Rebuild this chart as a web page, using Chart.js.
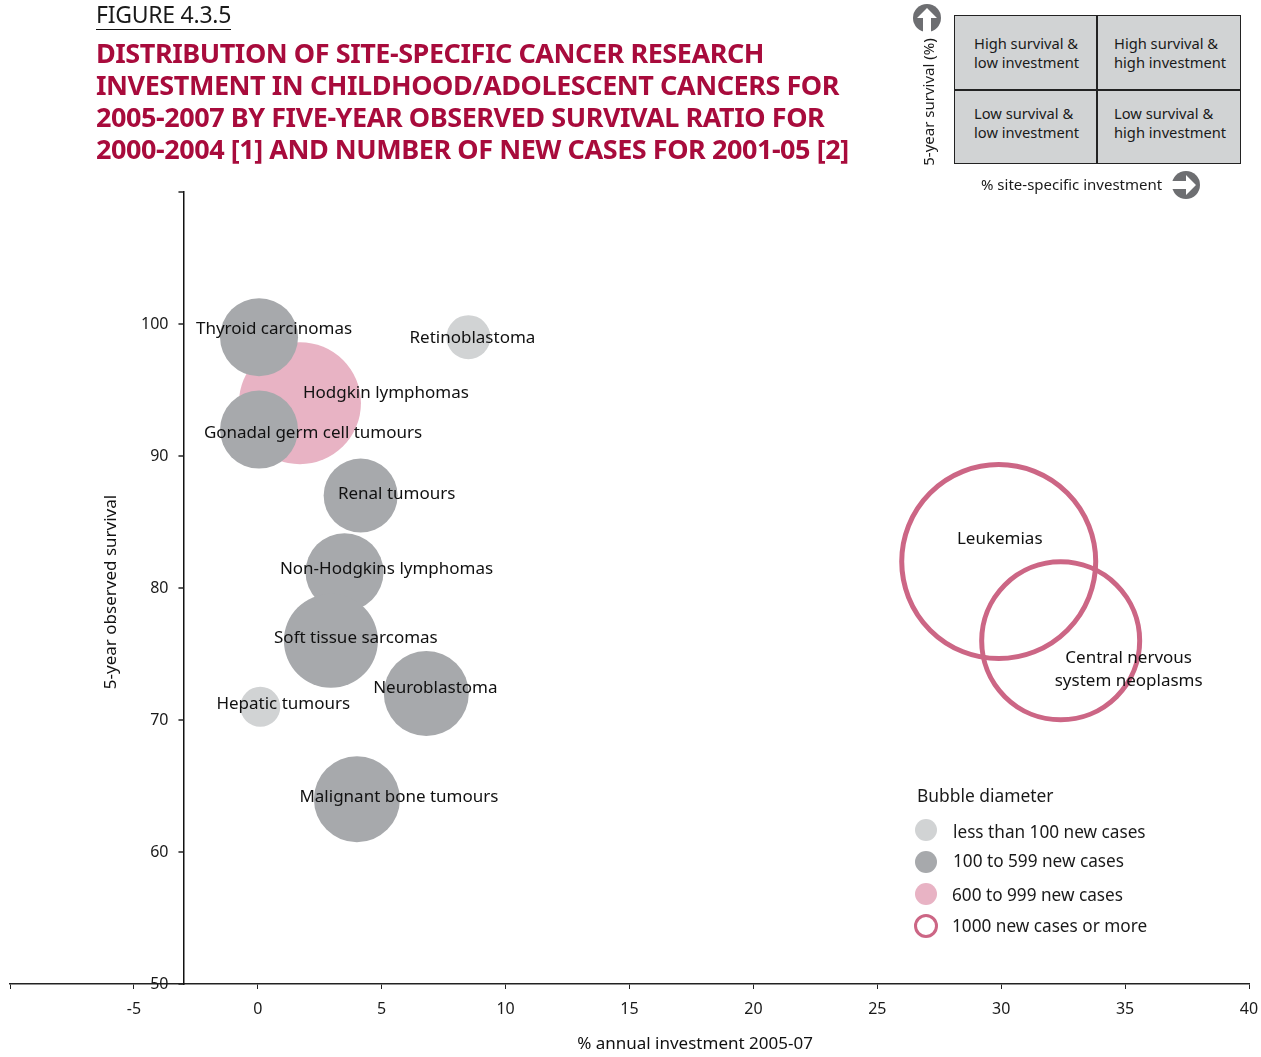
<!DOCTYPE html>
<html>
<head>
<meta charset="utf-8">
<title>Figure 4.3.5</title>
<script src="https://cdn.jsdelivr.net/npm/chart.js@4"></script>
<style>
  html, body { margin: 0; padding: 0; background: #fff; }
  body { position: relative; width: 1261px; height: 1057px; overflow: hidden; font-family: "Noto Sans", sans-serif; color: #1a1a1a; }
  #chart { position: absolute; left: 0; top: 0; }
  .abs { position: absolute; white-space: nowrap; }
  #figure { left: 96px; top: 0; font-size: 23px; line-height: 29px; border-bottom: 1.5px solid #111; letter-spacing: -0.25px; }
  #title { left: 96px; top: 37px; font-size: 27px; line-height: 32px; font-weight: 700; color: #a80b3c; letter-spacing: -0.45px; }
  #matrix { left: 954px; top: 15px; width: 287px; height: 149px; background: #d1d3d4; border: 1.5px solid #222; box-sizing: border-box; }
  #matrix .cell { position: absolute; font-size: 14.7px; line-height: 19px; }
  #matrix .v { position: absolute; left: 141px; top: 0; bottom: 0; border-left: 2px solid #222; }
  #matrix .h { position: absolute; top: 73px; left: 0; right: 0; border-top: 2px solid #222; }
  .hint { font-size: 15px; }
  #legend-title { left: 917px; top: 783px; font-size: 17.4px; }
  .key { font-size: 17.2px; line-height: 24px; }
  .swatch { position: absolute; width: 22px; height: 22px; border-radius: 50%; box-sizing: border-box; }
</style>
</head>
<body>
<canvas id="chart" width="1261" height="1057"></canvas>

<div class="abs" id="figure">FIGURE 4.3.5</div>
<div class="abs" id="title">DISTRIBUTION OF SITE-SPECIFIC CANCER RESEARCH<br>INVESTMENT IN CHILDHOOD/ADOLESCENT CANCERS FOR<br>2005-2007 BY FIVE-YEAR OBSERVED SURVIVAL RATIO FOR<br>2000-2004 [1] AND NUMBER OF NEW CASES FOR 2001-05 [2]</div>

<!-- quadrant key, top right -->
<div class="abs" id="matrix">
  <div class="v"></div><div class="h"></div>
  <div class="cell" style="left:19px;top:18px">High survival &amp;<br>low investment</div>
  <div class="cell" style="left:159px;top:18px">High survival &amp;<br>high investment</div>
  <div class="cell" style="left:19px;top:88px">Low survival &amp;<br>low investment</div>
  <div class="cell" style="left:159px;top:88px">Low survival &amp;<br>high investment</div>
</div>
<div class="abs hint" style="left:928px;top:102px;transform:translate(-50%,-50%) rotate(-90deg)">5-year survival (%)</div>
<div class="abs hint" style="left:981px;top:174px">% site-specific investment</div>
<svg class="abs" style="left:913px;top:4px" width="28" height="28" viewBox="0 0 28 28">
  <circle cx="14" cy="14" r="14" fill="#6d6e71"/>
  <path d="M14 4 L24 14 L18 14 L18 28 L10 28 L10 14 L4 14 Z" fill="#fff"/>
</svg>
<svg class="abs" style="left:1172px;top:171px" width="28" height="28" viewBox="0 0 28 28">
  <circle cx="14" cy="14" r="14" fill="#6d6e71"/>
  <path d="M24 14 L14 24 L14 18 L0 18 L0 10 L14 10 L14 4 Z" fill="#fff"/>
</svg>

<!-- bubble size legend -->
<div class="abs" id="legend-title">Bubble diameter</div>
<div class="swatch" style="left:915px;top:819px;background:#d1d3d4"></div>
<div class="abs key" style="left:953px;top:820px">less than 100 new cases</div>
<div class="swatch" style="left:915px;top:851px;background:#a7a9ac"></div>
<div class="abs key" style="left:953px;top:849px">100 to 599 new cases</div>
<div class="swatch" style="left:915px;top:883px;background:#e8b3c4"></div>
<div class="abs key" style="left:952px;top:883px">600 to 999 new cases</div>
<div class="swatch" style="left:914px;top:914px;width:24px;height:24px;border:3.5px solid #cc6685"></div>
<div class="abs key" style="left:952px;top:914px">1000 new cases or more</div>

<script>
// Values
const lessThan100 = ['Retinoblastoma', 'Hepatic tumours'];
const lessThan100Invest = [8.5, 0.1];
const lessThan100Survival = [99, 71];
const lessThan100Bubble = [22, 20];

const from100To599 = ['Thyroid carcinomas', 'Gonadal germ cell tumours', 'Renal tumours', 'Non-Hodgkins lymphomas', 'Soft tissue sarcomas', 'Neuroblastoma', 'Malignant bone tumours'];
const from100To599Invest = [0.05, 0.05, 4.15, 3.5, 2.95, 6.8, 4.0];
const from100To599Survival = [99, 92, 87, 81.2, 76, 72, 64];
const from100To599Bubble = [39, 39, 37, 39, 47, 42.5, 43];

const from600To999 = ['Hodgkin lymphomas'];
const from600To999Invest = [1.7];
const from600To999Survival = [94];
const from600To999Bubble = [61];

const over1000 = ['Leukemias', 'Central nervous\nsystem neoplasms'];
const over1000Invest = [29.9, 32.4];
const over1000Survival = [82, 76];
const over1000Bubble = [97, 79];

const xTicks = [-10, -5, 0, 5, 10, 15, 20, 25, 30, 35, 40];
const yTicks = [50, 60, 70, 80, 90, 100, 110];

function points(names, xs, ys, rs) {
  return names.map((n, i) => ({ x: xs[i], y: ys[i], r: rs[i], name: n }));
}

// where each label sits relative to its bubble centre
const labelShift = {
  'Retinoblastoma': [4, 1],
  'Hepatic tumours': [23, -3],
  'Thyroid carcinomas': [15, -8],
  'Gonadal germ cell tumours': [54, 4],
  'Renal tumours': [36, -1],
  'Non-Hodgkins lymphomas': [42, -3],
  'Soft tissue sarcomas': [25, -3],
  'Neuroblastoma': [9, -5],
  'Malignant bone tumours': [42, -2],
  'Hodgkin lymphomas': [86, -10],
  'Leukemias': [1, -22],
  'Central nervous\nsystem neoplasms': [68, 17]
};

const bubbleLabels = {
  id: 'bubbleLabels',
  afterDatasetsDraw(chart) {
    const ctx = chart.ctx;
    ctx.save();
    ctx.font = '17px "Noto Sans"';
    ctx.fillStyle = '#111';
    ctx.textAlign = 'center';
    ctx.textBaseline = 'middle';
    chart.data.datasets.forEach((ds, di) => {
      chart.getDatasetMeta(di).data.forEach((el, i) => {
        const name = ds.data[i].name;
        const shift = labelShift[name];
        name.split('\n').forEach((line, k) => {
          ctx.fillText(line, el.x + shift[0], el.y + shift[1] + k * 23);
        });
      });
    });

    // axis titles sit off centre in the original
    ctx.fillText('% annual investment 2005-07', 695, 1044);
    ctx.save();
    ctx.translate(111, 592);
    ctx.rotate(-Math.PI / 2);
    ctx.fillText('5-year observed survival', 0, 0);
    ctx.restore();

    // y ticks point left of an axis floating at x = -3, the scale won't lay that out itself
    const yScale = chart.scales.y;
    const axisX = chart.scales.x.getPixelForValue(-3);
    ctx.font = '16px "Noto Sans"';
    ctx.fillStyle = '#1a1a1a';
    ctx.textAlign = 'right';
    ctx.strokeStyle = '#222';
    ctx.lineWidth = 1.5;
    yScale.ticks.forEach(t => {
      const py = yScale.getPixelForValue(t.value);
      ctx.beginPath();
      ctx.moveTo(axisX, py);
      ctx.lineTo(axisX - 5, py);
      ctx.stroke();
      if (t.value !== 110) ctx.fillText(t.value, axisX - 15, py + 0.5);
    });
    ctx.restore();
  }
};

new Chart(document.getElementById('chart'), {
  type: 'bubble',
  data: {
    // first dataset is painted last, so pink goes at the end to stay under the grey
    datasets: [
      { label: '1000 new cases or more', data: points(over1000, over1000Invest, over1000Survival, over1000Bubble), backgroundColor: 'rgba(0,0,0,0)', borderColor: '#cc6685', borderWidth: 5 },
      { label: 'less than 100 new cases', data: points(lessThan100, lessThan100Invest, lessThan100Survival, lessThan100Bubble), backgroundColor: '#d1d3d4', borderWidth: 0 },
      { label: '100 to 599 new cases', data: points(from100To599, from100To599Invest, from100To599Survival, from100To599Bubble), backgroundColor: '#a7a9ac', borderWidth: 0 },
      { label: '600 to 999 new cases', data: points(from600To999, from600To999Invest, from600To999Survival, from600To999Bubble), backgroundColor: '#e8b3c4', borderWidth: 0 }
    ]
  },
  options: {
    responsive: false,
    animation: false,
    clip: false,
    layout: { autoPadding: false, padding: { left: 10, right: 12, top: 192, bottom: 0 } },
    plugins: { legend: { display: false }, tooltip: { enabled: false } },
    scales: {
      x: {
        type: 'linear',
        min: -10,
        max: 40,
        afterFit(scale) {
          scale.height = 73;
          // drop the room kept for the end labels so the axis runs out to the padding
          scale.paddingLeft = 0;
          scale.paddingRight = 0;
        },
        afterBuildTicks(scale) { scale.ticks = xTicks.map(v => ({ value: v })); },
        grid: { drawOnChartArea: false, tickLength: 5, tickColor: '#222' },
        border: { color: '#222', width: 1.5 },
        ticks: {
          color: '#1a1a1a',
          maxRotation: 0,
          autoSkip: false,
          padding: 11,
          font: { family: '"Noto Sans"', size: 16 },
          callback: v => (v === -10 ? '' : v)
        }
      },
      y: {
        type: 'linear',
        position: { x: -3 },
        min: 50,
        max: 110,
        afterFit(scale) { scale.width = 0; },
        afterBuildTicks(scale) { scale.ticks = yTicks.map(v => ({ value: v })); },
        grid: { drawOnChartArea: false, drawTicks: false },
        border: { color: '#111', width: 1.5 },
        ticks: { display: false }
      }
    }
  },
  plugins: [bubbleLabels]
});
</script>
</body>
</html>
